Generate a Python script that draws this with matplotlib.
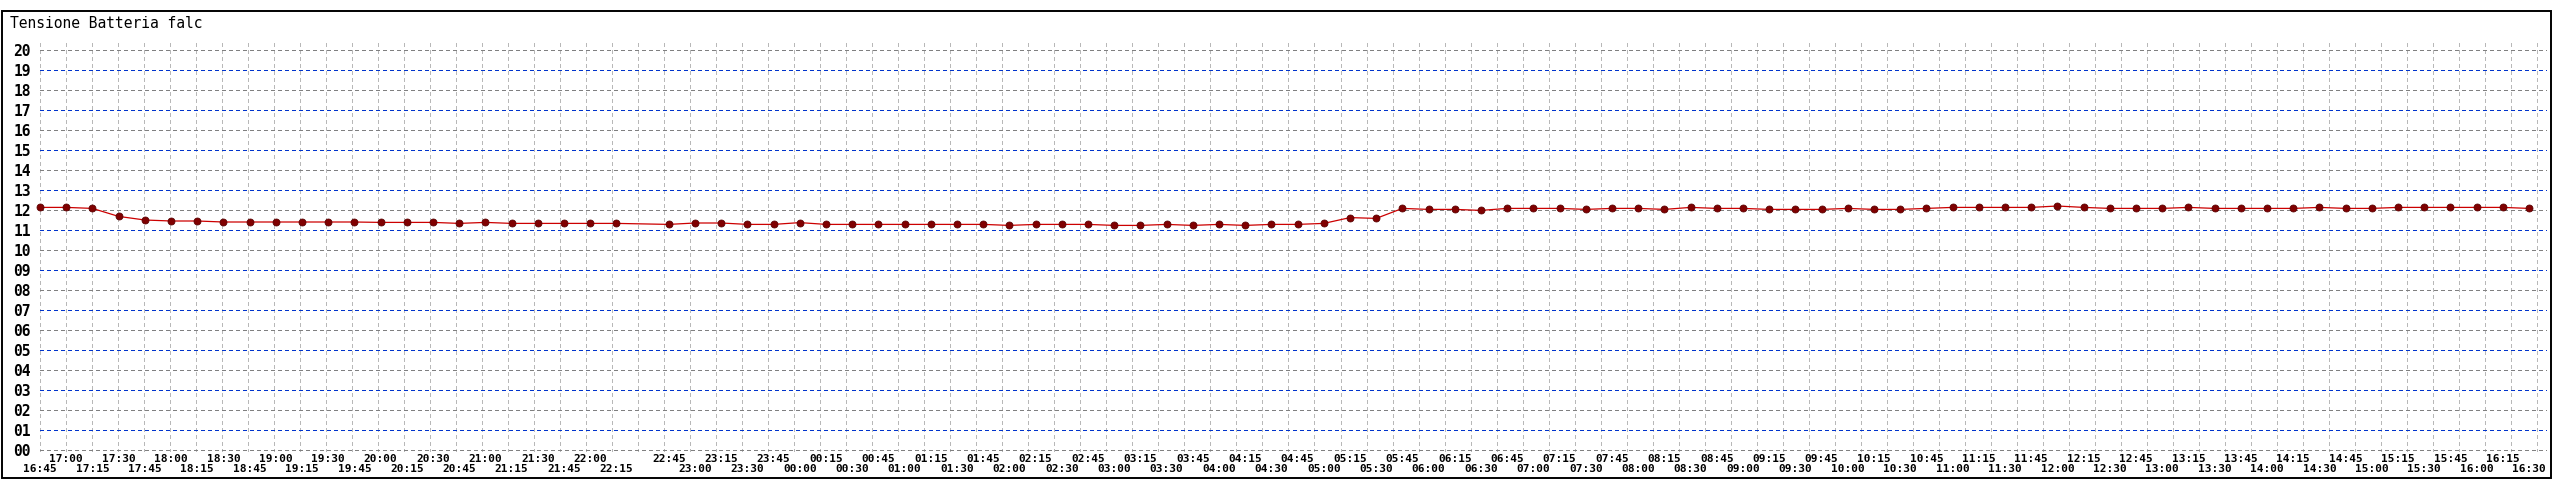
import matplotlib
matplotlib.use("Agg")
import matplotlib.pyplot as plt
from matplotlib.patches import Rectangle
import numpy as np

# -------------------------
# DATA
# -------------------------

TITLE = "Tensione Batteria falc"

# sampling times (22:30 has no reading)
times = [
    "16:45", "17:00", "17:15", "17:30", "17:45", "18:00", "18:15", "18:30",
    "18:45", "19:00", "19:15", "19:30", "19:45", "20:00", "20:15", "20:30",
    "20:45", "21:00", "21:15", "21:30", "21:45", "22:00", "22:15",
    "22:45", "23:00", "23:15", "23:30", "23:45", "00:00", "00:15", "00:30",
    "00:45", "01:00", "01:15", "01:30", "01:45", "02:00", "02:15", "02:30",
    "02:45", "03:00", "03:15", "03:30", "03:45", "04:00", "04:15", "04:30",
    "04:45", "05:00", "05:15", "05:30", "05:45", "06:00", "06:15", "06:30",
    "06:45", "07:00", "07:15", "07:30", "07:45", "08:00", "08:15", "08:30",
    "08:45", "09:00", "09:15", "09:30", "09:45", "10:00", "10:15", "10:30",
    "10:45", "11:00", "11:15", "11:30", "11:45", "12:00", "12:15", "12:30",
    "12:45", "13:00", "13:15", "13:30", "13:45", "14:00", "14:15", "14:30",
    "14:45", "15:00", "15:15", "15:30", "15:45", "16:00", "16:15", "16:30",
]

volts = [
    12.13, 12.13, 12.08, 11.68, 11.50, 11.45, 11.45, 11.40,
    11.40, 11.40, 11.40, 11.40, 11.40, 11.38, 11.38, 11.38,
    11.33, 11.38, 11.33, 11.33, 11.33, 11.33, 11.33,
    11.28, 11.35, 11.35, 11.28, 11.28, 11.37, 11.28, 11.28,
    11.28, 11.28, 11.28, 11.28, 11.28, 11.23, 11.28, 11.28,
    11.28, 11.23, 11.23, 11.28, 11.23, 11.28, 11.23, 11.28,
    11.28, 11.33, 11.62, 11.58, 12.08, 12.03, 12.03, 11.98,
    12.08, 12.08, 12.08, 12.03, 12.08, 12.08, 12.03, 12.13,
    12.08, 12.08, 12.03, 12.03, 12.03, 12.08, 12.03, 12.03,
    12.08, 12.13, 12.13, 12.13, 12.13, 12.20, 12.13, 12.08,
    12.08, 12.08, 12.13, 12.08, 12.08, 12.08, 12.08, 12.13,
    12.08, 12.08, 12.13, 12.13, 12.13, 12.13, 12.13, 12.08,
]

y_ticks = list(range(0, 21))

# -------------------------
# HELPERS
# -------------------------

W, H = 2560, 480
MONO = "DejaVu Sans Mono"
plt.rcParams["lines.scale_dashes"] = False


def minutes_from_start(t, start):
    h, m = map(int, t.split(":"))
    h0, m0 = map(int, start.split(":"))
    d = (h * 60 + m) - (h0 * 60 + m0)
    return d + 1440 if d < 0 else d


def px(v):
    # pixels -> points at dpi 100
    return v * 0.72


def main():
    x = [minutes_from_start(t, times[0]) for t in times]

    fig = plt.figure(figsize=(W / 100, H / 100), dpi=100)
    fig.patch.set_facecolor("white")

    left, right, top, bottom = 40, 2547, 40, 452
    ax = fig.add_axes([left / W, 1 - bottom / H, (right - left) / W, (bottom - top) / H])
    ax.set_xlim(0, (right - left) / (26.2 / 15))
    ax.set_ylim(-0.1, 20.5)
    for s in ax.spines.values():
        s.set_visible(False)

    # vertical grid (evenly spaced across the plot)
    step = 26.01 / (right - left)
    xs = np.arange(97) * step
    ax.vlines(xs, 0, 1, transform=ax.transAxes, colors="#b8b8b8",
              linewidth=0.75, linestyles=[(0, (px(4), px(3)))],
              antialiased=False, zorder=1)

    # horizontal grid: even grey, odd blue
    for v in y_ticks:
        col = "#808080" if v % 2 == 0 else "#0033cc"
        ax.axhline(v, color=col, linewidth=0.75, antialiased=False,
                   linestyle=(0, (px(4), px(3))), zorder=1)

    ax.plot(x, volts, color="#cc0000", linewidth=0.9, marker="o",
            markersize=5, markerfacecolor="#800000", markeredgecolor="#5a0000",
            markeredgewidth=0.6, zorder=3, clip_on=False)

    # y labels
    ax.set_yticks(y_ticks, [f"{v:02d}" for v in y_ticks])
    ax.tick_params(axis="y", length=0, pad=px(9))
    for lab in ax.get_yticklabels():
        lab.set_fontfamily(MONO)
        lab.set_fontweight("bold")
        lab.set_fontsize(10.5)

    # x labels on two rows, alternating
    up_x = [x[i] for i in range(1, len(x), 2)]
    up_l = [times[i] for i in range(1, len(x), 2)]
    lo_x = [x[i] for i in range(0, len(x), 2)]
    lo_l = [times[i] for i in range(0, len(x), 2)]
    ax.set_xticks(up_x, up_l)
    ax.set_xticks(lo_x, lo_l, minor=True)
    ax.tick_params(axis="x", which="major", length=0, pad=px(2))
    ax.tick_params(axis="x", which="minor", length=0, pad=px(12))
    for lab in ax.get_xticklabels() + ax.get_xticklabels(minor=True):
        lab.set_fontfamily(MONO)
        lab.set_fontweight("bold")
        lab.set_fontsize(8)

    fig.text(10 / W, 1 - 23 / H, TITLE, ha="left", va="center",
             fontsize=10.5, family=MONO)

    # outer frame
    fig.add_artist(Rectangle((2 / W, 2 / H), (2551 - 2) / W, (478 - 11) / H,
                             transform=fig.transFigure, fill=False,
                             edgecolor="black", linewidth=1.4))

    fig.savefig("out.png", dpi=100)
    plt.close(fig)


if __name__ == "__main__":
    main()
